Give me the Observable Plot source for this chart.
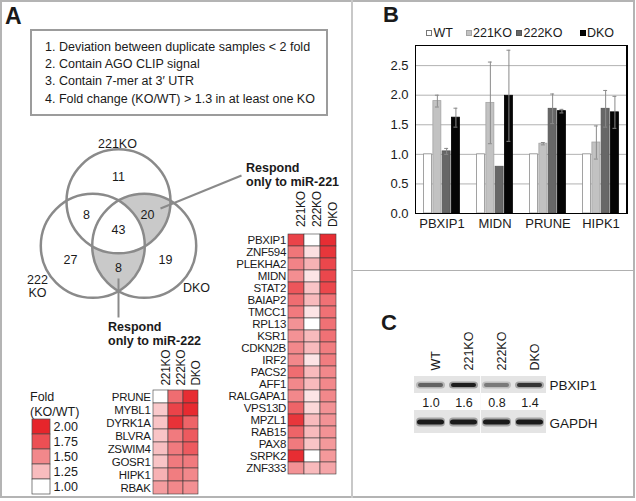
<!DOCTYPE html>
<html><head><meta charset="utf-8">
<script src="https://cdn.jsdelivr.net/npm/d3@7"></script>
<script src="https://cdn.jsdelivr.net/npm/@observablehq/plot@0.6"></script>
<style>
body{margin:0;background:#fff;}
#fig{position:relative;width:636px;height:501px;font-family:"Liberation Sans",Arial,Helvetica,sans-serif;color:#1a1a1a;overflow:hidden;}
#fig svg{background:transparent !important;max-width:none !important;}
.t{position:absolute;white-space:nowrap;}
</style></head><body><div id="fig"></div>
<script>
// ---------------- DATA ----------------
// Panel B (qPCR, fold over WT)
const barGenes = ["PBXIP1","MIDN","PRUNE","HIPK1"];
const barConditions = ["WT","221KO","222KO","DKO"];
const wtValues    = [1.00, 1.00, 1.00, 1.00];
const ko221Values = [1.90, 1.87, 1.18, 1.20];
const ko222Values = [1.05, 0.79, 1.77, 1.77];
const dkoValues   = [1.62, 1.99, 1.73, 1.71];
const wtErr    = [0, 0, 0, 0];
const ko221Err = [0.10, 0.69, 0.02, 0.28];
const ko222Err = [0.05, 0, 0.25, 0.31];
const dkoErr   = [0.16, 0.77, 0.03, 0.27];
const barTicks = [0, 0.5, 1.0, 1.5, 2.0, 2.5];

// Panel A criteria
const criteria = [
  "1. Deviation between duplicate samples < 2 fold",
  "2. Contain AGO CLIP signal",
  "3. Contain 7-mer at 3\u2032 UTR",
  "4. Fold change (KO/WT) > 1.3 in at least one KO"
];

// Panel A Venn
const vennSets = ["221KO", "222\nKO", "DKO"];
const vennCounts = [11, 8, 20, 43, 27, 8, 19]; // 221only, 221&222, 221&DKO, all, 222only, 222&DKO, DKOonly

// Heatmap: respond only to miR-221
const heatColumns = ["221KO","222KO","DKO"];
const mir221Genes = ["PBXIP1","ZNF594","PLEKHA2","MIDN","STAT2","BAIAP2","TMCC1","RPL13","KSR1","CDKN2B","IRF2","PACS2","AFF1","RALGAPA1","VPS13D","MPZL1","RAB15","PAX8","SRPK2","ZNF333"];
const mir221Ko221 = [1.82,1.58,1.52,1.47,1.72,1.62,1.56,1.45,1.45,1.50,1.50,1.62,1.50,1.50,1.66,1.90,1.66,1.56,1.95,1.45];
const mir221Ko222 = [1.00,1.12,1.30,1.10,1.22,1.26,1.10,1.00,1.26,1.26,1.10,1.26,1.26,1.10,1.15,1.26,1.26,1.22,1.00,1.26];
const mir221Dko   = [1.95,1.90,1.80,1.80,1.80,1.60,1.60,1.60,1.60,1.55,1.55,1.50,1.50,1.50,1.45,1.45,1.45,1.42,1.42,1.36];

// Heatmap: respond only to miR-222
const mir222Genes = ["PRUNE","MYBL1","DYRK1A","BLVRA","ZSWIM4","GOSR1","HIPK1","RBAK"];
const mir222Ko221 = [1.00,1.20,1.22,1.22,1.24,1.22,1.30,1.40];
const mir222Ko222 = [1.62,1.82,1.92,1.56,1.56,1.56,1.55,1.50];
const mir222Dko   = [1.95,1.97,1.66,1.70,1.70,1.56,1.50,1.46];

// Fold legend
const foldLevels = [2.00, 1.75, 1.50, 1.25, 1.00];

// Panel C western blot
const blotLanes = ["WT","221KO","222KO","DKO"];
const blotProteins = ["PBXIP1","GAPDH"];
const pbxip1Ratio = [1.0, 1.6, 0.8, 1.4];

// ---------------- STYLE / LAYOUT ----------------
const FONT = '"Liberation Sans", Arial, Helvetica, sans-serif';
const INK = "#1a1a1a";
const foldColors = ["#e6252b","#ec4f54","#f2888b","#f8bcbe","#ffffff"];
const heatColor = {type:"linear", domain:[1,1.25,1.5,1.75,2], range:[...foldColors].reverse(), interpolate:"rgb"};
const fig = document.getElementById("fig");

function place(node, left, top){
  node.style.position = "absolute";
  node.style.left = left + "px";
  node.style.top = top + "px";
  fig.appendChild(node);
  return node;
}
function txt(s, left, cy, size, bold){
  const d = document.createElement("div");
  d.className = "t";
  const lh = Math.round(size*1.15);
  d.style.cssText += `left:${left}px;top:${cy-lh/2}px;font-size:${size}px;line-height:${lh}px;font-weight:${bold?"bold":"normal"};`;
  d.textContent = s;
  fig.appendChild(d);
  return d;
}
function box(css){
  const d = document.createElement("div");
  d.style.cssText = "position:absolute;box-sizing:border-box;" + css;
  fig.appendChild(d);
  return d;
}

// frame & dividers
box("left:0;top:0;width:635px;height:498px;border:2px solid #b4b4b4;");
box("left:351px;top:0;width:2px;height:498px;background:#c8c8c8;");
box("left:353px;top:269.5px;width:281px;height:1.5px;background:#b0b0b0;");

// panel letters
txt("A", 5, 16, 23, true);
txt("B", 383, 14.5, 22, true);
txt("C", 381, 322, 22, true);

// criteria box
box("left:30px;top:29px;width:298px;height:87px;border:2.5px solid #9c9c9c;");
[47, 64, 81, 98.5].forEach((cy,i)=>txt(criteria[i], 45, cy, 12.5, false));

// ---------------- VENN ----------------
const U = 52; // pixels per radius unit
const vennCenters = [90, 210, 330].map((a,i)=>({set:vennSets[i], x:0.571*Math.cos(a*Math.PI/180), y:0.571*Math.sin(a*Math.PI/180)}));
const vennRegionPos = [[0,1.03],[-0.615,0.317],[0.558,0.317],[0,0.01],[-0.923,-0.567],[0,-0.702],[0.904,-0.567]];
const vennSetLabelPos = [[-0.02,1.683],[-1.558,-1.06],[1.5,-1.087]];
const vennLinks = [[0.808,0.433,2.365,1.067],[0,-0.913,0,-1.663]];

function vennShade(index, scales){
  const X = scales.x, Y = scales.y;
  const r = X(1) - X(0);
  const c = vennCenters.map(d=>[X(d.x), Y(d.y)]);
  const g = d3.create("svg:g");
  const defs = g.append("defs");
  c.forEach(([cx,cy],i)=>defs.append("clipPath").attr("id","vclip"+i).append("circle").attr("cx",cx).attr("cy",cy).attr("r",r));
  const circ = (sel,i)=>sel.append("circle").attr("cx",c[i][0]).attr("cy",c[i][1]).attr("r",r);
  circ(g,2).attr("fill","#c9c9c9").attr("clip-path","url(#vclip0)");
  circ(g,2).attr("fill","#c9c9c9").attr("clip-path","url(#vclip1)");
  circ(g.append("g").attr("clip-path","url(#vclip0)"),1).attr("fill","#ffffff").attr("clip-path","url(#vclip2)");
  return g.node();
}

const venn = Plot.plot({
  width: 250, height: 190, margin: 0,
  x: {domain: [-118/U, 132/U], axis: null},
  y: {domain: [-89.5/U, 100.5/U], axis: null},
  style: {fontFamily: FONT, fontSize: "12.5px", color: INK, background: "transparent"},
  marks: [
    vennShade,
    Plot.dot(vennCenters, {x:"x", y:"y", r: U, stroke:"#8a8a8a", strokeWidth: 2.5, fill:"none"}),
    Plot.link(vennLinks, {x1:d=>d[0], y1:d=>d[1], x2:d=>d[2], y2:d=>d[3], stroke:"#8a8a8a", strokeWidth: 2}),
    Plot.text(vennCounts, {x:(d,i)=>vennRegionPos[i][0], y:(d,i)=>vennRegionPos[i][1], text:d=>String(d), fill: INK}),
    Plot.text(vennSets, {x:(d,i)=>vennSetLabelPos[i][0], y:(d,i)=>vennSetLabelPos[i][1], text:d=>d, fill: INK, lineHeight: 1.05})
  ]
});
place(venn, 0, 130);

txt("Respond", 246, 168, 12.5, true);
txt("only to miR-221", 246, 182, 12.5, true);
txt("Respond", 108, 327, 12.5, true);
txt("only to miR-222", 108, 341, 12.5, true);

// ---------------- HEATMAPS ----------------
function heatmap(genes, cols, o){
  const data = [];
  genes.forEach((g,i)=>cols.forEach((vals,j)=>data.push({gene:g, col:heatColumns[j], value:vals[i]})));
  return Plot.plot({
    width: o.width, height: o.height,
    marginLeft: o.ml, marginRight: o.mr, marginTop: o.mt, marginBottom: o.mb,
    x: {domain: heatColumns, padding: 0, axis: null},
    y: {domain: genes, padding: 0, tickSize: 0, tickPadding: 2, label: null},
    color: heatColor,
    style: {fontFamily: FONT, fontSize: "11.5px", color: INK, background: "transparent", letterSpacing: "-0.3px"},
    marks: [
      Plot.cell(data, {x:"col", y:"gene", fill:"value", stroke:"#3c3c3c", strokeWidth: 0.6}),
      Plot.text(heatColumns, {x:d=>d, frameAnchor:"top", rotate:-90, textAnchor:"start", dy:o.hdy, fontSize: 12, fill: INK})
    ]
  });
}
place(heatmap(mir221Genes, [mir221Ko221, mir221Ko222, mir221Dko], {width:142, height:300, ml:87.5, mr:5, mt:51.6, mb:4, hdy:-5}), 200, 180);
place(heatmap(mir222Genes, [mir222Ko221, mir222Ko222, mir222Dko], {width:145, height:151.3, ml:92, mr:6.5, mt:44.5, mb:2, hdy:-4.5}), 60, 345);

// Fold legend
txt("Fold", 30, 397, 12.5, false);
txt("(KO/WT)", 30, 411.5, 12.5, false);
const legendPlot = Plot.plot({
  width: 70, height: 86, marginLeft: 12, marginRight: 40, marginTop: 7, marginBottom: 4,
  x: {axis: null},
  y: {domain: foldLevels.map(d=>d.toFixed(2)), padding: 0, axis: "right", tickSize: 0, tickPadding: 3, label: null},
  color: heatColor,
  style: {fontFamily: FONT, fontSize: "12.5px", color: INK, background: "transparent"},
  marks: [
    Plot.cell(foldLevels, {y:d=>d.toFixed(2), fill:d=>d, stroke:"#4a4a4a", strokeWidth: 0.7})
  ]
});
place(legendPlot, 20, 412);

// ---------------- PANEL B: BAR CHART ----------------
const series = [wtValues, ko221Values, ko222Values, dkoValues];
const seriesErr = [wtErr, ko221Err, ko222Err, dkoErr];
const barFill = ["#ffffff","#c2c2c2","#676767","#050505"];
const barStroke = ["#8c8c8c","#a5a5a5","#555555","#000000"];
const barRows = barGenes.flatMap((g,i)=>barConditions.map((c,j)=>({gene:g, cond:c, j, value:series[j][i], err:seriesErr[j][i]})));

const bW = 256, bH = 240, bML = 35, bMR = 9, bMT = 45, bMB = 27;
const pIn = 0.3, pOut = 0.15;
const yMax = 2.84;
const step = (bW - bML - bMR) / (barGenes.length - pIn + 2*pOut);
const band = step * (1 - pIn);
const sub = band / barConditions.length;

const barMarks = [Plot.ruleY(barTicks.slice(1), {stroke:"#b2b2b2", strokeWidth: 1})];
barConditions.forEach((c,j)=>{
  const rows = barRows.filter(d=>d.j===j);
  barMarks.push(Plot.barY(rows, {x:"gene", y:"value", fill:barFill[j], stroke:barStroke[j], strokeWidth:0.8,
    insetLeft: j*sub + 0.6, insetRight: (barConditions.length-1-j)*sub + 0.6}));
});
barConditions.forEach((c,j)=>{
  const rows = barRows.filter(d=>d.j===j && d.err>0);
  const cx = j*sub + sub/2;
  barMarks.push(Plot.ruleX(rows, {x:"gene", y1:d=>d.value-d.err, y2:d=>d.value+d.err, dx: cx - band/2, stroke:"#8a8a8a", strokeWidth:1}));
  barMarks.push(Plot.tickY(rows, {x:"gene", y:d=>d.value+d.err, insetLeft: cx-2, insetRight: band-cx-2, stroke:"#8a8a8a", strokeWidth:1}));
  barMarks.push(Plot.tickY(rows, {x:"gene", y:d=>d.value-d.err, insetLeft: cx-2, insetRight: band-cx-2, stroke:"#8a8a8a", strokeWidth:1}));
});
barMarks.push(Plot.frame({stroke:"#000", strokeWidth: 1}));

const barPlot = Plot.plot({
  width: bW, height: bH, marginLeft: bML, marginRight: bMR, marginTop: bMT, marginBottom: bMB,
  x: {domain: barGenes, paddingInner: pIn, paddingOuter: pOut, tickSize: 0, tickPadding: 5, label: null},
  y: {domain: [0, yMax], ticks: barTicks, tickFormat: d3.format(".1f"), tickSize: 0, tickPadding: 7, label: null},
  style: {fontFamily: FONT, fontSize: "13px", color: INK, background: "transparent"},
  marks: barMarks
});
place(barPlot, 380, 0);
// reinforce the plot-area border (same rectangle as the frame mark)
box(`left:${380+bML}px;top:${bMT}px;width:${bW-bML-bMR}px;height:${bH-bMT-bMB+0.5}px;border:1px solid #000;`);

// bar legend
const legX = [426, 465.5, 516, 579.5];
barConditions.forEach((c,j)=>{
  box(`left:${legX[j]}px;top:30px;width:6px;height:6px;background:${barFill[j]};border:1px solid ${j===0?"#777":barStroke[j]};`);
  txt(c, legX[j]+7.5, 33, 12.5, false);
});

// ---------------- PANEL C: WESTERN BLOT ----------------
const blotBg = blotProteins.flatMap(p=>blotLanes.map(l=>({lane:l, row:p})));
const bandData = blotLanes.map((l,i)=>({lane:l, row:"PBXIP1", level:pbxip1Ratio[i]}));
const gapdhData = blotLanes.map(l=>({lane:l, row:"GAPDH"}));
const bandShade = d3.scaleLinear().domain([0.8, 1.6]).range(["#7a7a7a", "#1e1e1e"]);

const blot = Plot.plot({
  width: 256, height: 160, marginLeft: 34, marginRight: 90, marginTop: 86, marginBottom: 17,
  x: {domain: blotLanes, padding: 0, axis: null},
  y: {domain: ["PBXIP1","ratio","GAPDH"], padding: 0, axis: null},
  style: {fontFamily: FONT, fontSize: "12.5px", color: INK, background: "transparent"},
  marks: [
    Plot.cell(blotBg.filter(d=>d.row==="PBXIP1"), {x:"lane", y:"row", fill:"#e4e4e4", insetBottom: 2}),
    Plot.cell(blotBg.filter(d=>d.row==="GAPDH"), {x:"lane", y:"row", fill:"#e4e4e4", insetTop: -4}),
    Plot.cell(bandData, {x:"lane", y:"row", fill:d=>bandShade(d.level), fillOpacity:0.35, insetLeft:2, insetRight:2, insetTop:5.5, insetBottom:6.5, rx:4}),
    Plot.cell(bandData, {x:"lane", y:"row", fill:d=>bandShade(d.level), insetLeft:4, insetRight:4, insetTop:7, insetBottom:8, rx:2}),
    Plot.cell(gapdhData, {x:"lane", y:"row", fill:"#2a2a2a", fillOpacity:0.35, insetLeft:2, insetRight:2, insetTop:3.5, insetBottom:6.5, rx:4}),
    Plot.cell(gapdhData, {x:"lane", y:"row", fill:"#1a1a1a", insetLeft:3, insetRight:3, insetTop:5.5, insetBottom:8.5, rx:3}),
    Plot.ruleX(["222KO"], {x:d=>d, dx: -((256-34-90)/blotLanes.length)/2, stroke:"#fafafa", strokeWidth: 1}),
    Plot.text(bandData, {x:"lane", y:()=>"ratio", text:d=>d.level.toFixed(1), dy:-2, fill: INK}),
    Plot.text(blotLanes, {x:d=>d, frameAnchor:"top", rotate:-90, textAnchor:"start", dy:-6, fill: INK}),
    Plot.text(blotProteins, {y:d=>d, frameAnchor:"right", textAnchor:"start", dx:3, fontSize: 13.5, fill: INK})
  ]
});
place(blot, 380, 290);
</script>
</body></html>
